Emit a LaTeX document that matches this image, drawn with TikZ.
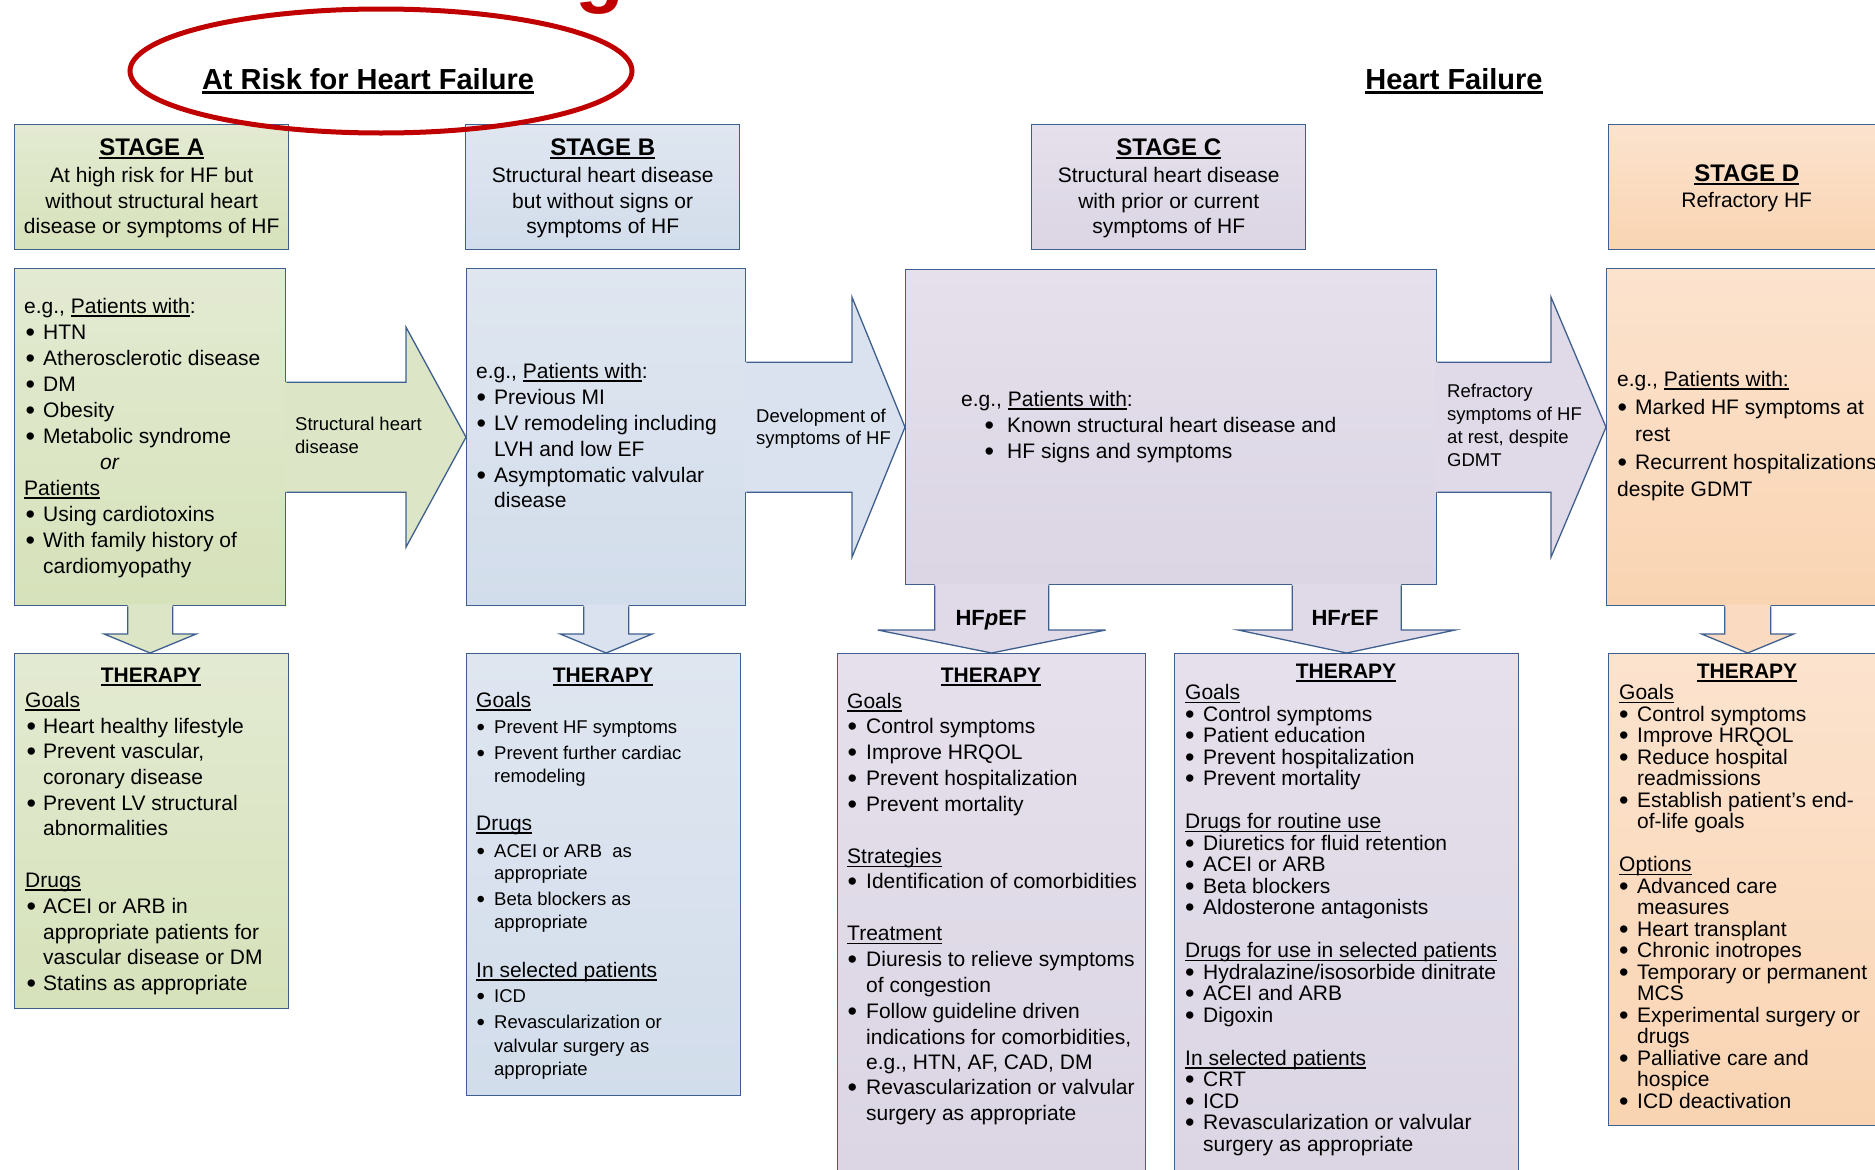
\documentclass[tikz,border=0pt]{standalone}
\usepackage{fontspec}
\setmainfont{Liberation Sans}
\usetikzlibrary{calc,shadings}

\definecolor{edge}{HTML}{3F5F8F}
\definecolor{hfred}{HTML}{C00000}
\definecolor{gTop}{HTML}{E3EAD2}
\definecolor{gBot}{HTML}{D6E2BA}
\definecolor{gArr}{HTML}{DCE6C6}
\definecolor{bTop}{HTML}{DFE6F0}
\definecolor{bBot}{HTML}{D2DDEB}
\definecolor{bArr}{HTML}{D9E2EE}
\definecolor{pTop}{HTML}{E5E0EB}
\definecolor{pBot}{HTML}{DBD5E4}
\definecolor{pArr}{HTML}{E0DAE8}
\definecolor{oTop}{HTML}{FCE3CE}
\definecolor{oBot}{HTML}{F9D4B2}
\definecolor{oArr}{HTML}{FADAC0}

% text helpers: lines are zero-height boxes placed at exact baseline steps
\newlength\bind
\newlength\bpre
\newsavebox\ulbox
\def\bsz{27}
\def\blow{2.2pt}
\newcommand\fs[2]{\fontsize{#1}{#2}\selectfont}
\newcommand\undl[2][1.3pt]{\sbox\ulbox{#2}\rlap{\rule[\dimexpr-2.2pt-#1\relax]{\wd\ulbox}{#1}}\usebox\ulbox}
\newcommand\lfirst[1]{\setbox0=\hbox{#1}\ht0=0pt \dp0=0pt \box0 }
\newcommand\lnext[2]{\vskip#1\relax\lfirst{#2}}
\newcommand\cfirst[1]{\lfirst{\hbox to 0pt{\hss#1\hss}}}
\newcommand\cnext[2]{\vskip#1\relax\cfirst{#2}}
\newcommand\bitem[1]{\makebox[\bind][l]{\hspace*{\bpre}\raisebox{-\blow}{\fontsize{\bsz}{\bsz}\selectfont\textbullet}}#1}
\newcommand\bcont[1]{\hspace*{\bind}#1}

% block arrows: fill first, then the open outline (no edge on the tail side)
\newcommand\rarrow[6]{%
  \fill[#1] ($(#2 |- #3)+(-2,-#4)$) -- ($(#3)+(-#6,-#4)$) -- ($(#3)+(-#6,-#5)$) -- (#3)
    -- ($(#3)+(-#6,#5)$) -- ($(#3)+(-#6,#4)$) -- ($(#2 |- #3)+(-2,#4)$) -- cycle;
  \draw[arrowline] ($(#2 |- #3)+(0,-#4)$) -- ($(#3)+(-#6,-#4)$) -- ($(#3)+(-#6,-#5)$) -- (#3)
    -- ($(#3)+(-#6,#5)$) -- ($(#3)+(-#6,#4)$) -- ($(#2 |- #3)+(0,#4)$);
}
\newcommand\darrow[6]{%
  \fill[#1] ($(#3 |- #2)+(-#4,-2)$) -- ($(#3)+(-#4,-#6)$) -- ($(#3)+(-#5,-#6)$) -- (#3)
    -- ($(#3)+(#5,-#6)$) -- ($(#3)+(#4,-#6)$) -- ($(#3 |- #2)+(#4,-2)$) -- cycle;
  \draw[arrowline] ($(#3 |- #2)+(-#4,0)$) -- ($(#3)+(-#4,-#6)$) -- ($(#3)+(-#5,-#6)$) -- (#3)
    -- ($(#3)+(#5,-#6)$) -- ($(#3)+(#4,-#6)$) -- ($(#3 |- #2)+(#4,0)$);
}

\tikzset{
  panel/.style={draw=edge, line width=1.3pt, rectangle, inner sep=0pt, anchor=north west},
  txt/.style={inner sep=0pt, anchor=base west},
  arrowline/.style={draw=edge, line width=1.3pt, line join=miter},
}

\begin{document}
\begin{tikzpicture}[x=1pt,y=-1pt]
\useasboundingbox (0,0) rectangle (1875,1170);
\clip (0,0) rectangle (1875,1170);
\fill[white] (0,0) rectangle (1875,1170);

% cut-off heading letter along the top edge
\node[anchor=base, inner sep=0pt, text=hfred] (topg) at (600,-3) {\fs{80}{80}\bfseries g};

% ---------- stage header boxes ----------
\node[panel, top color=gTop, bottom color=gBot, minimum width=274pt, minimum height=125pt] (sA) at (14,124) {};
\node[panel, top color=bTop, bottom color=bBot, minimum width=274pt, minimum height=125pt] (sB) at (465,124) {};
\node[panel, top color=pTop, bottom color=pBot, minimum width=274pt, minimum height=125pt] (sC) at (1031,124) {};
\node[panel, top color=oTop, bottom color=oBot, minimum width=278pt, minimum height=125pt] (sD) at (1608,124) {};

% ---------- patient boxes ----------
\node[panel, top color=gTop, bottom color=gBot, minimum width=271pt, minimum height=337pt] (pA) at (14,268) {};
\node[panel, top color=bTop, bottom color=bBot, minimum width=279pt, minimum height=337pt] (pB) at (466,268) {};
\node[panel, top color=pTop, bottom color=pBot, minimum width=531pt, minimum height=315pt] (pC) at (905,269) {};
\node[panel, top color=oTop, bottom color=oBot, minimum width=282pt, minimum height=337pt] (pD) at (1606,268) {};

% ---------- therapy boxes ----------
\node[panel, top color=gTop, bottom color=gBot, minimum width=274pt, minimum height=355pt] (tA) at (14,653) {};
\node[panel, top color=bTop, bottom color=bBot, minimum width=274pt, minimum height=442pt] (tB) at (466,653) {};
\node[panel, top color=pTop, bottom color=pBot, minimum width=308pt, minimum height=530pt] (tP) at (837,653) {};
\node[panel, top color=pTop, bottom color=pBot, minimum width=344pt, minimum height=530pt] (tR) at (1174,653) {};
\node[panel, top color=oTop, bottom color=oBot, minimum width=278pt, minimum height=472pt] (tD) at (1608,653) {};

% ---------- block arrows ----------
\coordinate (cdTip) at (pD.west |- pC.east);
\coordinate (aTip) at (pA.south |- tA.north);
\coordinate (bTip) at (pB.south |- tB.north);
\coordinate (dTip) at (pD.south |- tD.north);
\rarrow{gArr}{pA.east}{pB.west}{55}{110}{60}
\rarrow{bArr}{pB.east}{pC.west}{65}{130}{53}
\rarrow{pArr}{pC.east}{cdTip}{65}{130}{55}
\darrow{gArr}{pA.south}{aTip}{22.5}{46}{19}
\darrow{bArr}{pB.south}{bTip}{22.5}{46}{19}
\darrow{oArr}{pD.south}{dTip}{23}{46}{19}
\darrow{pArr}{pC.south}{tP.north}{57}{114}{23}
\darrow{pArr}{pC.south}{tR.north}{54.5}{108.5}{23}

% ---------- titles ----------
\node[anchor=base, inner sep=0pt] (riskT) at (368,89) {\fs{29}{33}\bfseries\undl[2.6pt]{At Risk for Heart Failure}};
\node[anchor=base, inner sep=0pt] (hfT) at (1454,89) {\fs{29}{33}\bfseries\undl[2.6pt]{Heart Failure}};

% ---------- stage header texts ----------
\node[txt] (sAtxt) at (151,155) {\fs{21}{26}\vtop{\offinterlineskip
  \cfirst{\fs{24}{27}\bfseries\undl[2pt]{STAGE A}}
  \cnext{27.5pt}{At high risk for HF but}
  \cnext{25.5pt}{without structural heart}
  \cnext{25pt}{disease or symptoms of HF}}};
\node[txt] (sBtxt) at (602,155) {\fs{21}{26}\vtop{\offinterlineskip
  \cfirst{\fs{24}{27}\bfseries\undl[2pt]{STAGE B}}
  \cnext{27.5pt}{Structural heart disease}
  \cnext{25.5pt}{but without signs or}
  \cnext{25pt}{symptoms of HF}}};
\node[txt] (sCtxt) at (1168,155) {\fs{21}{26}\vtop{\offinterlineskip
  \cfirst{\fs{24}{27}\bfseries\undl[2pt]{STAGE C}}
  \cnext{27.5pt}{Structural heart disease}
  \cnext{25.5pt}{with prior or current}
  \cnext{25pt}{symptoms of HF}}};
\node[txt] (sDtxt) at (1746,181) {\fs{21}{26}\vtop{\offinterlineskip
  \cfirst{\fs{24}{27}\bfseries\undl[2pt]{STAGE D}}
  \cnext{26.5pt}{Refractory HF}}};

% ---------- patient texts ----------
\node[txt] (pAtxt) at (24,313) {\fs{21}{26}\setlength\bind{19pt}\setlength\bpre{1.5pt}\vtop{\offinterlineskip
  \lfirst{e.g., \undl{Patients with}:}
  \lnext{26pt}{\bitem{HTN}}
  \lnext{26pt}{\bitem{Atherosclerotic disease}}
  \lnext{26pt}{\bitem{DM}}
  \lnext{26pt}{\bitem{Obesity}}
  \lnext{26pt}{\bitem{Metabolic syndrome}}
  \lnext{26pt}{\hspace*{76pt}\textit{or}}
  \lnext{26pt}{\undl{Patients}}
  \lnext{26pt}{\bitem{Using cardiotoxins}}
  \lnext{26pt}{\bitem{With family history of}}
  \lnext{26pt}{\bcont{cardiomyopathy}}}};
\node[txt] (pBtxt) at (476,378) {\fs{21}{26}\setlength\bind{18pt}\setlength\bpre{0.5pt}\vtop{\offinterlineskip
  \lfirst{e.g., \undl{Patients with}:}
  \lnext{26pt}{\bitem{Previous MI}}
  \lnext{26pt}{\bitem{LV remodeling including}}
  \lnext{26pt}{\bcont{LVH and low EF}}
  \lnext{26pt}{\bitem{Asymptomatic valvular}}
  \lnext{25pt}{\bcont{disease}}}};
\node[txt] (pCtxt) at (961,406) {\fs{21}{26}\setlength\bind{46pt}\setlength\bpre{23.5pt}\vtop{\offinterlineskip
  \lfirst{e.g., \undl{Patients with}:}
  \lnext{26.5pt}{\bitem{Known structural heart disease and}}
  \lnext{25.5pt}{\bitem{HF signs and symptoms}}}};
\node[txt] (pDtxt) at (1617,386) {\fs{21}{26}\setlength\bind{18pt}\setlength\bpre{0.5pt}\vtop{\offinterlineskip
  \lfirst{e.g., \undl{Patients with:}}
  \lnext{28.5pt}{\bitem{Marked HF symptoms at}}
  \lnext{27pt}{\bcont{rest}}
  \lnext{28pt}{\bitem{Recurrent hospitalizations}}
  \lnext{27pt}{despite GDMT}}};

% ---------- arrow labels ----------
\node[txt] (abLab) at (295,430) {\fs{18.5}{23}\vtop{\offinterlineskip
  \lfirst{Structural heart}
  \lnext{23pt}{disease}}};
\node[txt] (bcLab) at (756,422) {\fs{18.5}{23}\vtop{\offinterlineskip
  \lfirst{Development of}
  \lnext{22pt}{symptoms of HF}}};
\node[txt] (cdLab) at (1447,397) {\fs{18.5}{23}\vtop{\offinterlineskip
  \lfirst{Refractory}
  \lnext{23pt}{symptoms of HF}
  \lnext{23pt}{at rest, despite}
  \lnext{23pt}{GDMT}}};
\node[anchor=base, inner sep=0pt] (hfpLab) at (991,625) {\fs{22}{26}\bfseries HF\textit{p}EF};
\node[anchor=base, inner sep=0pt] (hfrLab) at (1345,625) {\fs{22}{26}\bfseries HF\textit{r}EF};

% ---------- therapy headings ----------
\node[anchor=base, inner sep=0pt] (tAhd) at (151,682) {\fs{21}{26}\bfseries\undl[1.6pt]{THERAPY}};
\node[anchor=base, inner sep=0pt] (tBhd) at (603,682) {\fs{21}{26}\bfseries\undl[1.6pt]{THERAPY}};
\node[anchor=base, inner sep=0pt] (tPhd) at (991,682) {\fs{21}{26}\bfseries\undl[1.6pt]{THERAPY}};
\node[anchor=base, inner sep=0pt] (tRhd) at (1346,678) {\fs{21}{26}\bfseries\undl[1.6pt]{THERAPY}};
\node[anchor=base, inner sep=0pt] (tDhd) at (1747,678) {\fs{21}{26}\bfseries\undl[1.6pt]{THERAPY}};

% ---------- therapy texts ----------
\node[txt] (tAtxt) at (25,707) {\fs{21}{26}\setlength\bind{18pt}\setlength\bpre{1.5pt}\vtop{\offinterlineskip
  \lfirst{\undl{Goals}}
  \lnext{26pt}{\bitem{Heart healthy lifestyle}}
  \lnext{25pt}{\bitem{Prevent vascular,}}
  \lnext{26pt}{\bcont{coronary disease}}
  \lnext{26pt}{\bitem{Prevent LV structural}}
  \lnext{25pt}{\bcont{abnormalities}}
  \lnext{52pt}{\undl{Drugs}}
  \lnext{26pt}{\bitem{ACEI or ARB in}}
  \lnext{26pt}{\bcont{appropriate patients for}}
  \lnext{25pt}{\bcont{vascular disease or DM}}
  \lnext{26pt}{\bitem{Statins as appropriate}}}};
\node[txt] (tBtxt) at (476,707) {\fs{21}{26}\setlength\bind{18pt}\setlength\bpre{0.5pt}\def\bsz{24}\def\blow{2pt}\vtop{\offinterlineskip
  \lfirst{\undl{Goals}}
  \lnext{26pt}{\fs{18.5}{23}\bitem{Prevent HF symptoms}}
  \lnext{26pt}{\fs{18.5}{23}\bitem{Prevent further cardiac}}
  \lnext{23pt}{\fs{18.5}{23}\bcont{remodeling}}
  \lnext{48pt}{\undl{Drugs}}
  \lnext{27pt}{\fs{18.5}{23}\bitem{ACEI or ARB~ as}}
  \lnext{22pt}{\fs{18.5}{23}\bcont{appropriate}}
  \lnext{26pt}{\fs{18.5}{23}\bitem{Beta blockers as}}
  \lnext{23pt}{\fs{18.5}{23}\bcont{appropriate}}
  \lnext{49pt}{\undl{In selected patients}}
  \lnext{25pt}{\fs{18.5}{23}\bitem{ICD}}
  \lnext{26pt}{\fs{18.5}{23}\bitem{Revascularization or}}
  \lnext{24pt}{\fs{18.5}{23}\bcont{valvular surgery as}}
  \lnext{23pt}{\fs{18.5}{23}\bcont{appropriate}}}};
\node[txt] (tPtxt) at (847,708) {\fs{21}{26}\setlength\bind{19pt}\setlength\bpre{0.5pt}\vtop{\offinterlineskip
  \lfirst{\undl{Goals}}
  \lnext{25.5pt}{\bitem{Control symptoms}}
  \lnext{26pt}{\bitem{Improve HRQOL}}
  \lnext{26pt}{\bitem{Prevent hospitalization}}
  \lnext{26pt}{\bitem{Prevent mortality}}
  \lnext{52pt}{\undl{Strategies}}
  \lnext{25pt}{\bitem{Identification of comorbidities}}
  \lnext{52pt}{\undl{Treatment}}
  \lnext{26pt}{\bitem{Diuresis to relieve symptoms}}
  \lnext{26pt}{\bcont{of congestion}}
  \lnext{26pt}{\bitem{Follow guideline driven}}
  \lnext{26pt}{\bcont{indications for comorbidities,}}
  \lnext{25pt}{\bcont{e.g., HTN, AF, CAD, DM}}
  \lnext{25pt}{\bitem{Revascularization or valvular}}
  \lnext{26pt}{\bcont{surgery as appropriate}}}};
\node[txt] (tRtxt) at (1185,699.5) {\fs{21}{26}\setlength\bind{18pt}\setlength\bpre{0pt}\vtop{\offinterlineskip
  \lfirst{\undl{Goals}}
  \lnext{21.5pt}{\bitem{Control symptoms}}
  \lnext{21.5pt}{\bitem{Patient education}}
  \lnext{21.5pt}{\bitem{Prevent hospitalization}}
  \lnext{21.5pt}{\bitem{Prevent mortality}}
  \lnext{43pt}{\undl{Drugs for routine use}}
  \lnext{21.5pt}{\bitem{Diuretics for fluid retention}}
  \lnext{21.5pt}{\bitem{ACEI or ARB}}
  \lnext{21.5pt}{\bitem{Beta blockers}}
  \lnext{21.5pt}{\bitem{Aldosterone antagonists}}
  \lnext{43pt}{\undl{Drugs for use in selected patients}}
  \lnext{21.5pt}{\bitem{Hydralazine/isosorbide dinitrate}}
  \lnext{21.5pt}{\bitem{ACEI and ARB}}
  \lnext{21.5pt}{\bitem{Digoxin}}
  \lnext{43pt}{\undl{In selected patients}}
  \lnext{21.5pt}{\bitem{CRT}}
  \lnext{21.5pt}{\bitem{ICD}}
  \lnext{21.5pt}{\bitem{Revascularization or valvular}}
  \lnext{21.5pt}{\bcont{surgery as appropriate}}}};
\node[txt] (tDtxt) at (1619,699.5) {\fs{21}{26}\setlength\bind{18pt}\setlength\bpre{0pt}\vtop{\offinterlineskip
  \lfirst{\undl{Goals}}
  \lnext{21.5pt}{\bitem{Control symptoms}}
  \lnext{21.5pt}{\bitem{Improve HRQOL}}
  \lnext{21.5pt}{\bitem{Reduce hospital}}
  \lnext{21.5pt}{\bcont{readmissions}}
  \lnext{21.5pt}{\bitem{Establish patient’s end-}}
  \lnext{21.5pt}{\bcont{of-life goals}}
  \lnext{43pt}{\undl{Options}}
  \lnext{21.5pt}{\bitem{Advanced care}}
  \lnext{21.5pt}{\bcont{measures}}
  \lnext{21.5pt}{\bitem{Heart transplant}}
  \lnext{21.5pt}{\bitem{Chronic inotropes}}
  \lnext{21.5pt}{\bitem{Temporary or permanent}}
  \lnext{21.5pt}{\bcont{MCS}}
  \lnext{21.5pt}{\bitem{Experimental surgery or}}
  \lnext{21.5pt}{\bcont{drugs}}
  \lnext{21.5pt}{\bitem{Palliative care and}}
  \lnext{21.5pt}{\bcont{hospice}}
  \lnext{21.5pt}{\bitem{ICD deactivation}}}};

% ---------- red ring around the at-risk title ----------
\draw[hfred, line width=5pt] (381,71) ellipse [x radius=251pt, y radius=62pt];
\end{tikzpicture}
\end{document}
